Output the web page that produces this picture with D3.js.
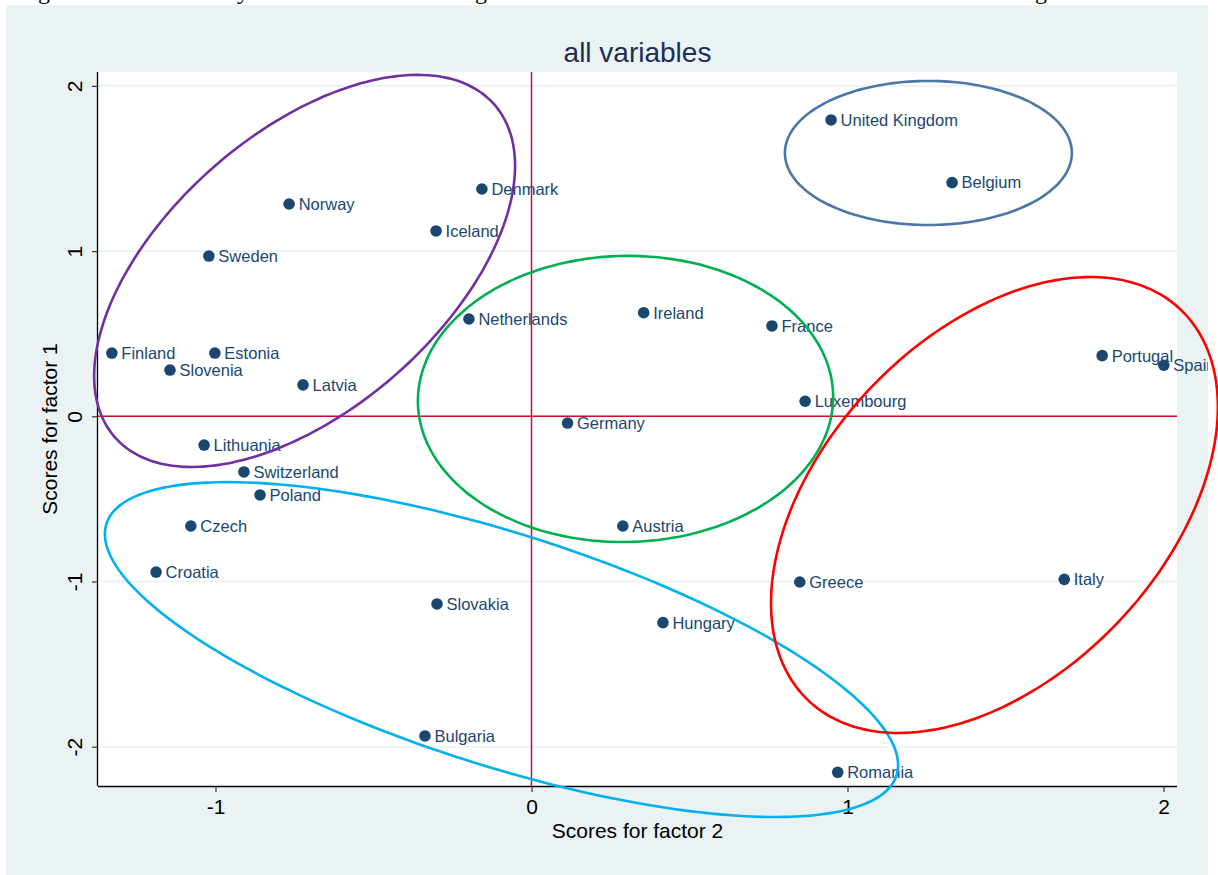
<!DOCTYPE html>
<html>
<head>
<meta charset="utf-8">
<script src="https://cdn.jsdelivr.net/npm/d3@7"></script>
<style>
html, body { margin: 0; padding: 0; background: #ffffff; }
svg { display: block; }
</style>
</head>
<body>
<script>
// ---------------- DATA ----------------
const countries = ["United Kingdom","Belgium","Denmark","Norway","Iceland","Sweden","Ireland","Netherlands","France",
  "Finland","Estonia","Slovenia","Latvia","Portugal","Spain","Luxembourg","Germany","Lithuania","Switzerland",
  "Poland","Austria","Czech","Croatia","Greece","Italy","Slovakia","Hungary","Bulgaria","Romania"];
const factor2 = [0.948, 1.331, -0.157, -0.767, -0.302, -1.021, 0.355, -0.198, 0.761,
  -1.328, -1.002, -1.144, -0.723, 1.806, 2.001, 0.866, 0.114, -1.036, -0.910,
  -0.859, 0.289, -1.078, -1.188, 0.849, 1.686, -0.299, 0.416, -0.337, 0.969];
const factor1 = [1.794, 1.415, 1.376, 1.285, 1.122, 0.970, 0.627, 0.589, 0.547,
  0.383, 0.383, 0.280, 0.190, 0.367, 0.309, 0.091, -0.041, -0.174, -0.337,
  -0.476, -0.664, -0.664, -0.943, -1.003, -0.987, -1.136, -1.249, -1.935, -2.155];
const xTicks = [-1, 0, 1, 2];
const yTicks = [-2, -1, 0, 1, 2];
const xTickLabels = ["-1", "0", "1", "2"];
const yTickLabels = ["-2", "-1", "0", "1", "2"];
// cluster ellipses (data units): centre, two conjugate half-axis vectors
const ellipseNames   = ["nordic", "east", "core", "uk-be", "south"];
const ellipseCenterX = [-0.718, -0.095, 0.2975, 1.256, 1.465];
const ellipseCenterY = [0.880, -1.412, 0.105, 1.594, -0.537];
const ellipseAx      = [0.666, 1.255, 0.657, 0.454, 0.707];
const ellipseAy      = [0.636, -0.699, 0.012, 0.0, 0.593];
const ellipseBy      = [1.002, 0.734, 0.866, 0.436, 1.246];
const ellipseColors  = ["#7030a0", "#00b0f0", "#00b050", "#4a77a8", "#ff0000"];
const titleText = "all variables";
const xTitle = "Scores for factor 2";
const yTitle = "Scores for factor 1";
const captionFragments = ["g", "y", "g", "g"];

// ---------------- LAYOUT ----------------
const W = 1218, H = 875;
const plot = { left: 98, right: 1177, top: 72, bottom: 786 };
const FONT = "'Liberation Sans', Arial, Helvetica, sans-serif";
const navy = "#1a476f";

const svg = d3.select("body").append("svg").attr("width", W).attr("height", H);

// caption fragments (cut off at top of picture, as in the source)
const capX = [38, 237, 475, 1035];
svg.selectAll("text.cap").data(captionFragments).join("text")
  .attr("class", "cap")
  .attr("x", (d, i) => capX[i]).attr("y", -1)
  .attr("font-family", "'Liberation Serif', 'Times New Roman', serif")
  .attr("font-size", 24).attr("fill", "#000").text(d => d);

// graph region background
svg.append("rect").attr("x", 6).attr("y", 5).attr("width", 1202).attr("height", H - 5)
  .attr("fill", "#eaf2f3");
// plot region
svg.append("rect").attr("x", plot.left).attr("y", plot.top)
  .attr("width", plot.right - plot.left).attr("height", plot.bottom - plot.top)
  .attr("fill", "#ffffff");

const x = d3.scaleLinear()
  .domain([(plot.left - 531.5) / 316, (plot.right - 531.5) / 316])
  .range([plot.left, plot.right]);
const y = d3.scaleLinear()
  .domain([(416.3 - plot.bottom) / 165.2, (416.3 - plot.top) / 165.2])
  .range([plot.bottom, plot.top]);

// gridlines
svg.append("g").selectAll("line").data(yTicks).join("line")
  .attr("x1", plot.left).attr("x2", plot.right)
  .attr("y1", d => y(d)).attr("y2", d => y(d))
  .attr("stroke", "#eaf2f3").attr("stroke-width", 1.6);

// axes
const xAxis = d3.axisBottom(x).tickValues(xTicks).tickSize(6).tickPadding(6)
  .tickFormat((d, i) => xTickLabels[i]);
const gx = svg.append("g").attr("transform", `translate(0,${plot.bottom})`).call(xAxis);
gx.select(".domain").attr("d", `M${plot.left},0.5H${plot.right}`).attr("stroke", "#000").attr("stroke-width", 1.3);
gx.selectAll(".tick line").attr("stroke", "#333").attr("stroke-width", 1.2);
gx.selectAll(".tick text").attr("font-family", FONT).attr("font-size", 21).attr("fill", "#000")
  .attr("dy", "0.72em").attr("y", 13);

const yAxis = d3.axisLeft(y).tickValues(yTicks).tickSize(6)
  .tickFormat((d, i) => yTickLabels[i]);
const gy = svg.append("g").attr("transform", `translate(${plot.left},0)`).call(yAxis);
gy.select(".domain").attr("d", `M-0.5,${plot.top}V${plot.bottom}`).attr("stroke", "#000").attr("stroke-width", 1.3);
gy.selectAll(".tick line").attr("stroke", "#333").attr("stroke-width", 1.2);
gy.selectAll(".tick text").attr("font-family", FONT).attr("font-size", 21).attr("fill", "#000")
  .attr("x", null).attr("dy", null).attr("text-anchor", "middle")
  .attr("transform", "translate(-16,0) rotate(-90)")
  .attr("y", 0);

// axis titles
svg.append("text").attr("x", (plot.left + plot.right) / 2).attr("y", 838)
  .attr("text-anchor", "middle").attr("font-family", FONT).attr("font-size", 21).attr("fill", "#000")
  .text(xTitle);
svg.append("text").attr("transform", `translate(57,${(plot.top + plot.bottom) / 2}) rotate(-90)`)
  .attr("text-anchor", "middle").attr("font-family", FONT).attr("font-size", 21).attr("fill", "#000")
  .text(yTitle);

// title
svg.append("text").attr("x", (plot.left + plot.right) / 2).attr("y", 62)
  .attr("text-anchor", "middle").attr("font-family", FONT).attr("font-size", 28).attr("fill", "#1e2d55")
  .text(titleText);

// points + labels
const defs = svg.append("defs");
defs.append("clipPath").attr("id", "gclip").append("rect")
  .attr("x", 6).attr("y", 5).attr("width", 1202).attr("height", H - 5);
const pts = countries.map((c, i) => ({ name: c, fx: factor2[i], fy: factor1[i] }));
const gp = svg.append("g").attr("clip-path", "url(#gclip)");
gp.selectAll("circle").data(pts).join("circle")
  .attr("cx", d => x(d.fx)).attr("cy", d => y(d.fy)).attr("r", 5.8).attr("fill", navy);
gp.selectAll("text").data(pts).join("text")
  .attr("x", d => x(d.fx) + 9.5).attr("y", d => y(d.fy)).attr("dy", "0.36em")
  .attr("font-family", FONT).attr("font-size", 16.5).attr("fill", navy)
  .text(d => d.name);

// reference lines at 0
svg.append("line").attr("x1", x(0)).attr("x2", x(0)).attr("y1", plot.top).attr("y2", plot.bottom)
  .attr("stroke", "#c8102e").attr("stroke-width", 1.5);
svg.append("line").attr("x1", plot.left).attr("x2", plot.right).attr("y1", y(0)).attr("y2", y(0))
  .attr("stroke", "#c8102e").attr("stroke-width", 1.5);

// ellipses
const tSteps = d3.range(0, 360, 2).map(a => a * Math.PI / 180);
const ellLine = d3.line().curve(d3.curveCardinalClosed);
ellipseNames.forEach((n, i) => {
  const ptsE = tSteps.map(t => [
    x(ellipseCenterX[i] + ellipseAx[i] * Math.cos(t)),
    y(ellipseCenterY[i] + ellipseAy[i] * Math.cos(t) + ellipseBy[i] * Math.sin(t))
  ]);
  svg.append("path").attr("d", ellLine(ptsE)).attr("fill", "none")
    .attr("stroke", ellipseColors[i]).attr("stroke-width", 2.6);
});
</script>
</body>
</html>
